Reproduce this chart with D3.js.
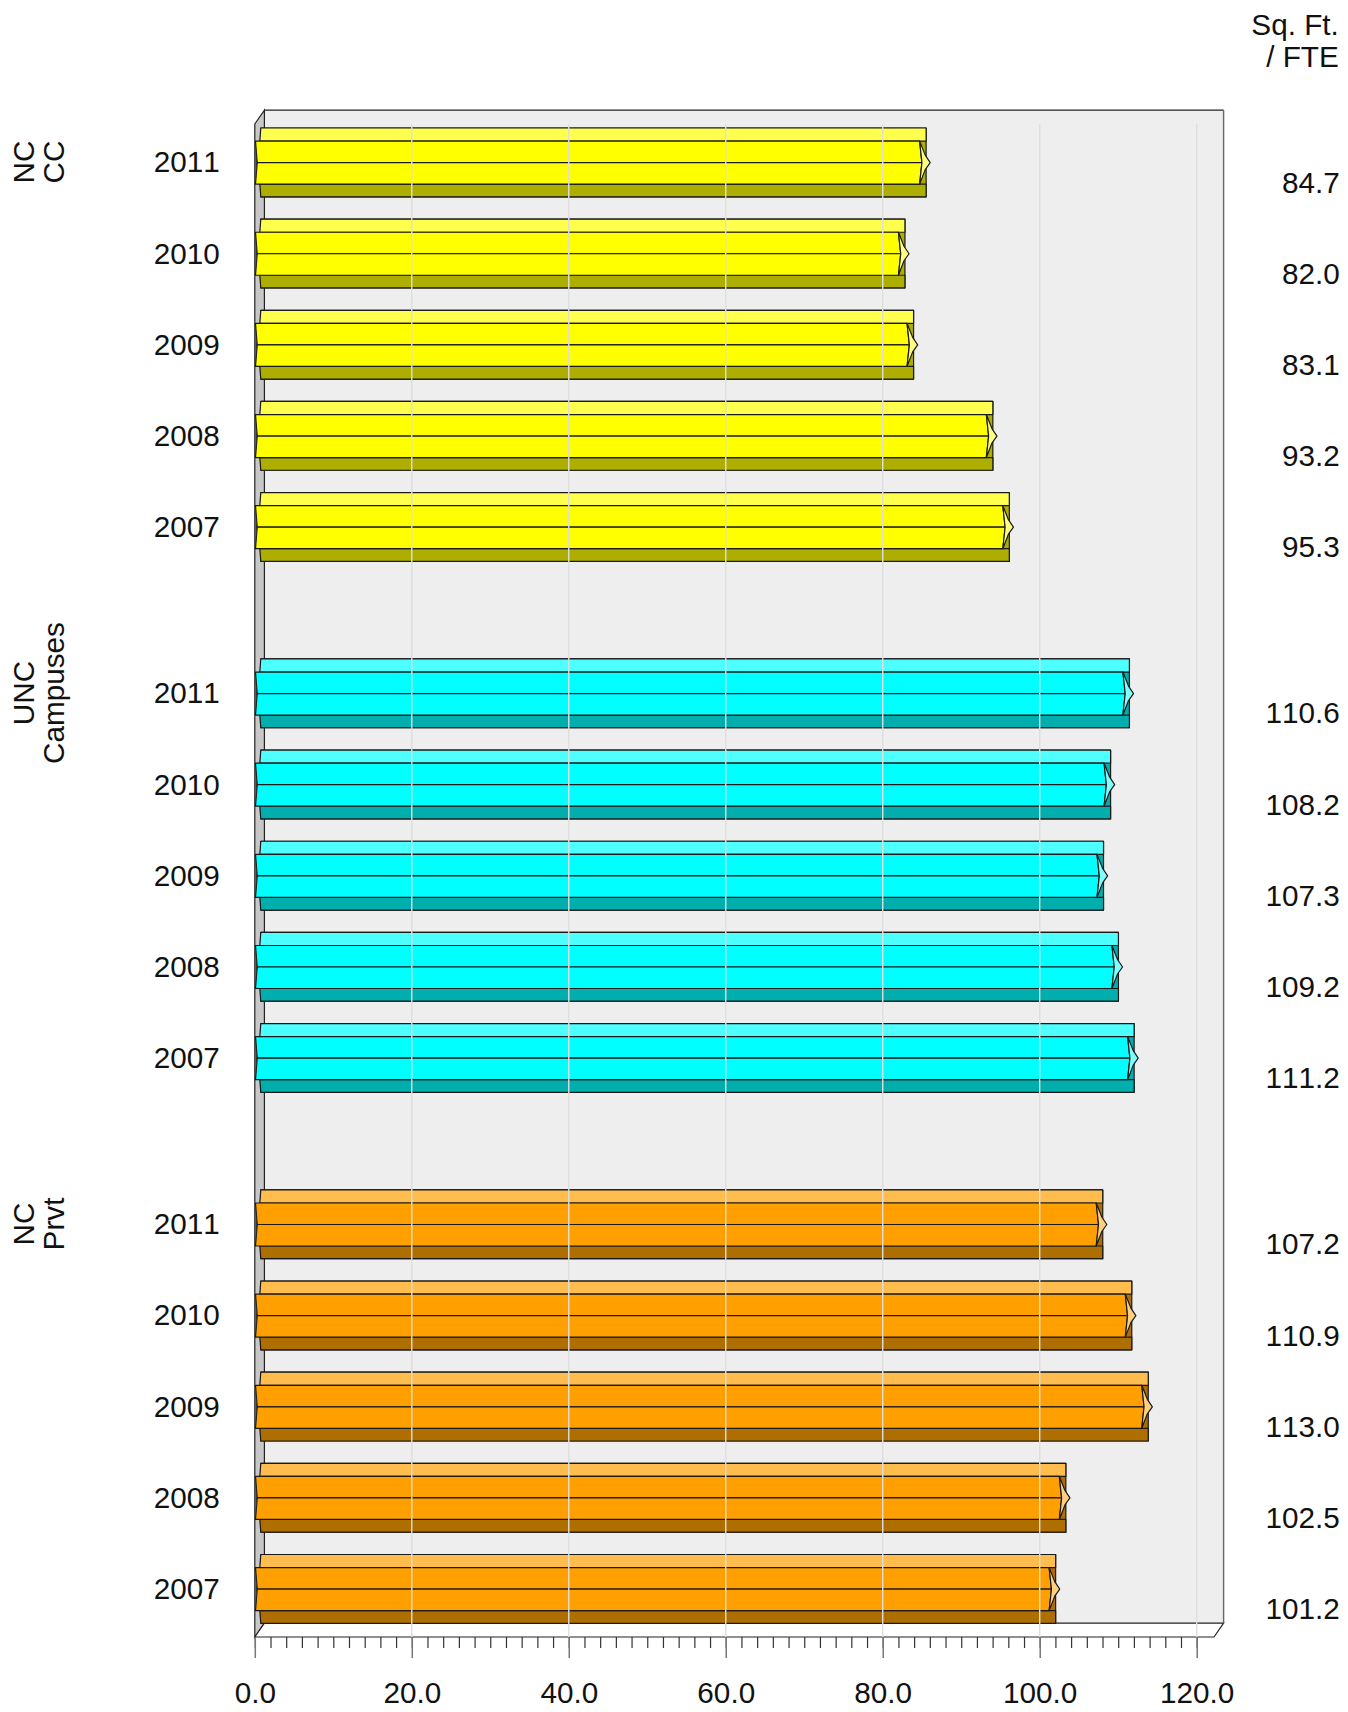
<!DOCTYPE html>
<html><head><meta charset="utf-8">
<script src="https://cdn.jsdelivr.net/npm/d3@7"></script>
<style>html,body{margin:0;padding:0;background:#fff}svg{display:block}text{font-family:"Liberation Sans",Arial,sans-serif;fill:#111;font-kerning:none}</style>
</head><body><svg id="c" width="1348" height="1712"></svg>
<script>
const groupNames = [["NC","CC"],["UNC","Campuses"],["NC","Prvt"]];
const years = ["2011","2010","2009","2008","2007"];
const ncCC = [84.7,82.0,83.1,93.2,95.3];
const uncCampuses = [110.6,108.2,107.3,109.2,111.2];
const ncPrvt = [107.2,110.9,113.0,102.5,101.2];
const seriesValues = [ncCC,uncCampuses,ncPrvt];
const faceColors = ["#ffff00","#00ffff","#ffa000"];
const topColors = ["#ffff4d","#4dffff","#ffbd4d"];
const bottomColors = ["#aeae00","#00aeae","#ae6e00"];
const capColors = ["#ffff80","#80ffff","#ffd080"];
const majorTicks = d3.range(0,121,20);
const minorTicks = d3.range(0,121,2);
const FS = 29.7;

const svg = d3.select("#c");
const x = d3.scaleLinear().domain([0,120]).range([254.8,1196.7]);
// rows: 5 per group, with an extra gap between groups
const pitch = 91.15;
const y = (g,i)=>162.6 + (g*5+i)*pitch + g*75.2;

const L=254.8,R=1214,T=124,B=1637,dx=9.6,dy=13.8;
const line=d=>d.map(p=>p.join(",")).join(" ");
// walls
svg.append("polygon").attr("points",line([[L+dx,T-dy],[R+dx,T-dy],[R+dx,B-dy],[L+dx,B-dy]])).attr("fill","#eeeeee").attr("stroke","none");
svg.append("polygon").attr("points",line([[L,T],[L+dx,T-dy],[L+dx,B-dy],[L,B]])).attr("fill","#c8c8c8").attr("stroke","#222").attr("stroke-width",1.2);
svg.append("polygon").attr("points",line([[L,B],[L+dx,B-dy],[R+dx,B-dy],[R,B]])).attr("fill","#fff").attr("stroke","#222").attr("stroke-width",1.2);
svg.append("line").attr("x1",L+dx).attr("x2",R+dx).attr("y1",T-dy).attr("y2",T-dy).attr("stroke","#222").attr("stroke-width",1.2);
svg.append("line").attr("x1",R+dx).attr("x2",R+dx).attr("y1",T-dy).attr("y2",B-dy).attr("stroke","#666").attr("stroke-width",1.4);

// bars
const S="#1a1a1a",W=1.2;
seriesValues.forEach((vals,g)=>{
  vals.forEach((v,i)=>{
    const c=y(g,i),X=x(v),E=X+6.5,gp=svg.append("g");
    const poly=(pts,fill)=>gp.append("polygon").attr("points",line(pts)).attr("fill",fill).attr("stroke",S).attr("stroke-width",W).attr("stroke-linejoin","round");
    poly([[L+6,c-34.6],[E,c-34.6],[E,c+34.2],[L+6,c+34.2]],bottomColors[g]);
    poly([[L+6,c-34.6],[E,c-34.6],[E,c-21.5],[L+5,c-21.5]],topColors[g]);
    poly([[L+5,c+21.5],[E,c+21.5],[E,c+34.2],[L+6,c+34.2]],bottomColors[g]);
    poly([[L+0.7,c-21.5],[X,c-21.5],[X+2.3,c],[L+2.4,c]],faceColors[g]);
    poly([[L+0.7,c+21.5],[X,c+21.5],[X+2.3,c],[L+2.4,c]],faceColors[g]);
    gp.append("polygon").attr("points",line([[L+0.7,c-21.5],[L+2.4,c],[L+0.7,c+21.5]])).attr("fill","#333");
    poly([[X,c-21.5],[X+5.6,c-7.5],[X+10.6,c],[X+5.6,c+7],[X,c+21.5],[X+2.3,c]],capColors[g]);
  });
});

// grid, drawn over the bars
svg.selectAll("line.grid").data(majorTicks.filter(d=>d>0)).join("line").attr("class","grid")
  .attr("x1",d=>x(d)).attr("x2",d=>x(d)).attr("y1",T).attr("y2",B).attr("stroke","#dedede").attr("stroke-width",1.4);

// axis
const axisG=svg.append("g").attr("transform",`translate(0,${B})`);
axisG.call(d3.axisBottom(x).tickValues(minorTicks).tickSize(11).tickFormat(""));
axisG.select(".domain").remove();
axisG.selectAll("line").attr("stroke","#333").attr("stroke-width",1.2);
const majorG=svg.append("g").attr("transform",`translate(0,${B})`);
majorG.call(d3.axisBottom(x).tickValues(majorTicks).tickSize(21).tickPadding(24).tickFormat(d3.format(".1f")));
majorG.select(".domain").remove();
majorG.selectAll("line").attr("stroke","#777").attr("stroke-width",1.5);
majorG.selectAll("text").attr("font-size",FS).attr("font-family",null).style("fill","#111");

// labels
seriesValues.forEach((vals,g)=>{
  vals.forEach((v,i)=>{
    const c=y(g,i);
    svg.append("text").attr("x",219.8).attr("y",c+9.8).attr("text-anchor","end").attr("font-size",FS).text(years[i]);
    svg.append("text").attr("x",1339.8).attr("y",c+29.9).attr("text-anchor","end").attr("font-size",FS).text(v.toFixed(1));
  });
  const c=y(g,0)-0.5;
  groupNames[g].forEach((t,k)=>{
    svg.append("text").attr("transform",`translate(${33.5+k*30.5},${c}) rotate(-90)`).attr("text-anchor","middle").attr("font-size",FS).text(t);
  });
});
svg.append("text").attr("x",1338.8).attr("y",35).attr("text-anchor","end").attr("font-size",FS).text("Sq. Ft.");
svg.append("text").attr("x",1338.8).attr("y",67).attr("text-anchor","end").attr("font-size",FS).text("/ FTE");
</script></body></html>
